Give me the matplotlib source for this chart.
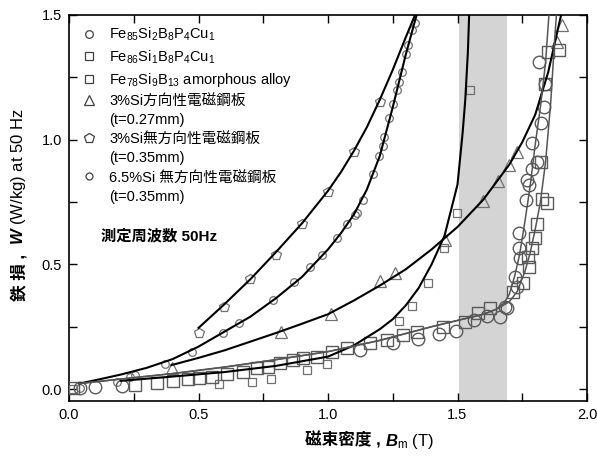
import matplotlib
matplotlib.use("Agg")
import matplotlib.pyplot as plt
from matplotlib.lines import Line2D
from matplotlib.ticker import MultipleLocator

plt.rcParams['font.family'] = ['Liberation Sans', 'Noto Sans CJK JP']
plt.rcParams['mathtext.fontset'] = 'custom'
plt.rcParams['mathtext.rm'] = 'Liberation Sans'
plt.rcParams['mathtext.it'] = 'Liberation Sans:italic'
plt.rcParams['mathtext.bf'] = 'Liberation Sans:bold:italic'
plt.rcParams['mathtext.default'] = 'regular'

# ---------------- data ----------------
# Fe85Si2B8P4Cu1 (large circles)
B_85 = [0.042, 0.10, 0.203, 1.124, 1.252, 1.349, 1.43, 1.494, 1.564, 1.613, 1.664, 1.69,
        1.683, 1.722, 1.728, 1.739, 1.739, 1.741, 1.764, 1.77, 1.777, 1.786, 1.786,
        1.806, 1.822, 1.834, 1.838, 1.816]
W_85 = [0.003, 0.007, 0.012, 0.156, 0.186, 0.20, 0.221, 0.233, 0.277, 0.293, 0.29, 0.323,
        0.33, 0.45, 0.41, 0.624, 0.564, 0.524, 0.76, 0.84, 0.82, 0.987, 0.884,
        0.911, 1.065, 1.131, 1.225, 1.312]
Bl_85 = [0.04, 0.2, 0.4, 0.6, 0.8, 1.0, 1.2, 1.4, 1.5, 1.6, 1.65, 1.68, 1.70, 1.72, 1.74,
         1.76, 1.78, 1.80, 1.82, 1.84, 1.853]
Wl_85 = [0.022, 0.04, 0.062, 0.088, 0.118, 0.15, 0.195, 0.25, 0.275, 0.30, 0.32, 0.345,
         0.38, 0.45, 0.54, 0.67, 0.81, 0.98, 1.13, 1.31, 1.5]

# Fe86Si1B8P4Cu1 (large squares)
B_86 = [0.014, 0.255, 0.339, 0.403, 0.461, 0.5, 0.551, 0.609, 0.673, 0.725, 0.77, 0.815,
        0.866, 0.905, 0.956, 1.014, 1.072, 1.162, 1.227, 1.291, 1.342, 1.445, 1.529,
        1.58, 1.625, 1.715, 1.754, 1.777, 1.773, 1.786, 1.799, 1.806, 1.825, 1.844,
        1.822, 1.838, 1.851, 1.893]
W_86 = [0.003, 0.016, 0.023, 0.032, 0.039, 0.043, 0.049, 0.06, 0.069, 0.083, 0.089, 0.103,
        0.116, 0.123, 0.13, 0.15, 0.163, 0.183, 0.196, 0.216, 0.23, 0.25, 0.27,
        0.303, 0.323, 0.39, 0.424, 0.49, 0.53, 0.564, 0.604, 0.661, 0.764, 0.747,
        0.911, 1.225, 1.352, 1.359]
Bl_86 = [0.04, 0.2, 0.4, 0.6, 0.8, 1.0, 1.2, 1.4, 1.5, 1.6, 1.65, 1.70, 1.73, 1.76, 1.78,
         1.80, 1.82, 1.84, 1.86, 1.875, 1.882]
Wl_86 = [0.022, 0.04, 0.062, 0.088, 0.118, 0.15, 0.195, 0.25, 0.275, 0.30, 0.32, 0.35,
         0.39, 0.47, 0.544, 0.64, 0.75, 0.91, 1.15, 1.40, 1.5]

# Fe78Si9B13 amorphous alloy (small squares)
B_am = [0.014, 0.58, 0.705, 0.78, 0.92, 0.995, 1.275, 1.323, 1.385, 1.449, 1.497, 1.548]
W_am = [0.0, 0.019, 0.029, 0.04, 0.076, 0.10, 0.274, 0.333, 0.426, 0.564, 0.704, 1.20]
Bl_am = [0.2, 0.4, 0.6, 0.8, 1.0, 1.1, 1.2, 1.25, 1.3, 1.35, 1.4, 1.45, 1.5, 1.52, 1.53,
         1.54, 1.545]
Wl_am = [0.033, 0.05, 0.068, 0.093, 0.13, 0.175, 0.24, 0.28, 0.335, 0.405, 0.50, 0.615,
         0.82, 1.03, 1.16, 1.35, 1.5]

# 3%Si grain-oriented (triangles)
B_go = [0.396, 0.817, 1.01, 1.20, 1.259, 1.452, 1.597, 1.658, 1.70, 1.728, 1.883, 1.902]
W_go = [0.083, 0.23, 0.30, 0.434, 0.464, 0.597, 0.753, 0.834, 0.90, 0.951, 1.39, 1.459]
Bl_go = [0.396, 0.5, 0.6, 0.7, 0.8, 0.9, 1.0, 1.1, 1.2, 1.3, 1.4, 1.5, 1.6, 1.7, 1.75,
         1.8, 1.85, 1.9]
Wl_go = [0.096, 0.125, 0.155, 0.19, 0.225, 0.262, 0.30, 0.355, 0.415, 0.48, 0.56, 0.65,
         0.76, 0.90, 0.99, 1.10, 1.27, 1.5]

# 3%Si non-oriented (pentagons)
B_no = [0.5, 0.6, 0.7, 0.8, 0.9, 1.0, 1.1, 1.2]
W_no = [0.226, 0.33, 0.44, 0.537, 0.661, 0.79, 0.949, 1.152]
Bl_no = [0.5, 0.6, 0.7, 0.8, 0.9, 1.0, 1.05, 1.1, 1.15, 1.2, 1.25, 1.3, 1.336]
Wl_no = [0.245, 0.34, 0.44, 0.55, 0.665, 0.795, 0.87, 0.955, 1.05, 1.16, 1.28, 1.41, 1.5]

# 6.5%Si non-oriented (small circles)
B_65 = [0.042, 0.184, 0.236, 0.255, 0.371, 0.474, 0.593, 0.658, 0.789, 0.87, 0.93, 0.978,
        1.033, 1.075, 1.104, 1.113, 1.134, 1.175, 1.198, 1.214, 1.217, 1.237, 1.252,
        1.265, 1.273, 1.284, 1.301, 1.31, 1.323, 1.336]
W_65 = [0.003, 0.029, 0.047, 0.056, 0.10, 0.15, 0.223, 0.263, 0.357, 0.43, 0.49, 0.537,
        0.606, 0.661, 0.697, 0.704, 0.76, 0.862, 0.934, 0.974, 1.011, 1.085, 1.142,
        1.198, 1.232, 1.272, 1.345, 1.379, 1.439, 1.466]
Bl_65 = [0.04, 0.1, 0.2, 0.3, 0.4, 0.5, 0.6, 0.7, 0.8, 0.9, 1.0, 1.05, 1.1, 1.15, 1.2,
         1.25, 1.3, 1.342]
Wl_65 = [0.022, 0.035, 0.058, 0.085, 0.12, 0.17, 0.23, 0.29, 0.365, 0.45, 0.56, 0.625,
         0.70, 0.80, 0.935, 1.13, 1.34, 1.5]

band = (1.505, 1.69)

legend_labels = [
    "Fe$_{85}$Si$_{2}$B$_{8}$P$_{4}$Cu$_{1}$",
    "Fe$_{86}$Si$_{1}$B$_{8}$P$_{4}$Cu$_{1}$",
    "Fe$_{78}$Si$_{9}$B$_{13}$ amorphous alloy",
    "3%Si方向性電磁鋼板",
    "(t=0.27mm)",
    "3%Si無方向性電磁鋼板",
    "(t=0.35mm)",
    "6.5%Si 無方向性電磁鋼板",
    "(t=0.35mm)",
]

# ---------------- plot ----------------
fig = plt.figure(figsize=(5.97, 4.61), dpi=100)
ax = fig.add_axes([69/597, 1-401/461, 518/597, 386/461])

ax.axvspan(band[0], band[1], color='#d4d4d4', zorder=0, lw=0)

gray_m = '#5a5a5a'
lgray_m = '#707070'

# markers
ax.plot(B_65, W_65, 'o', ms=5.5, mfc='none', mec=lgray_m, mew=0.9, zorder=3)
ax.plot(B_no, W_no, 'p', ms=7, mfc='none', mec=lgray_m, mew=0.9, zorder=3)
ax.plot(B_go, W_go, '^', ms=8, mfc='none', mec=lgray_m, mew=0.9, zorder=3)
ax.plot(B_am, W_am, 's', ms=5.5, mfc='none', mec=lgray_m, mew=0.9, zorder=3)
ax.plot(B_85, W_85, 'o', ms=9, mfc='none', mec=gray_m, mew=1.0, zorder=3)
ax.plot(B_86, W_86, 's', ms=8.5, mfc='none', mec=gray_m, mew=1.0, zorder=3)

# fitted lines
ax.plot(Bl_no, Wl_no, '-', color='black', lw=1.5, zorder=4)
ax.plot(Bl_65, Wl_65, '-', color='black', lw=1.5, zorder=4)
ax.plot(Bl_go, Wl_go, '-', color='black', lw=1.5, zorder=4)
ax.plot(Bl_am, Wl_am, '-', color='black', lw=1.5, zorder=4)
ax.plot(Bl_85, Wl_85, '-', color='#555555', lw=1.1, zorder=4)
ax.plot(Bl_86, Wl_86, '-', color='#555555', lw=1.1, zorder=4)

ax.set_xlim(0, 2.0)
ax.set_ylim(-0.048, 1.5)
ax.xaxis.set_minor_locator(MultipleLocator(0.25))
ax.yaxis.set_minor_locator(MultipleLocator(0.25))
ax.set_xticks([0.0, 0.5, 1.0, 1.5, 2.0])
ax.set_xticklabels(['0.0', '0.5', '1.0', '1.5', '2.0'])
ax.set_yticks([0.0, 0.5, 1.0, 1.5])
ax.set_yticklabels(['0.0', '0.5', '1.0', '1.5'])
ax.tick_params(which='both', direction='in', top=True, right=True, labelsize=10.5, width=1)
ax.tick_params(which='major', length=6, pad=5)
ax.tick_params(which='minor', length=6)
for s in ax.spines.values():
    s.set_linewidth(1.2)

# legend
mk = dict(mfc='none', mec='#404040', mew=0.9, ls='none')
handles = [
    Line2D([], [], marker='o', ms=5.5, **mk),
    Line2D([], [], marker='s', ms=5.5, **mk),
    Line2D([], [], marker='s', ms=5.5, **mk),
    Line2D([], [], marker='^', ms=7, **mk),
    Line2D([], [], ls='none'),
    Line2D([], [], marker='p', ms=7, **mk),
    Line2D([], [], ls='none'),
    Line2D([], [], marker='o', ms=5, **mk),
    Line2D([], [], ls='none'),
]
leg = ax.legend(handles, legend_labels, loc='upper left', bbox_to_anchor=(0.0, 1.0),
                frameon=False, fontsize=10.5, handlelength=1.2, handletextpad=0.8,
                labelspacing=0.35, borderaxespad=0.55, borderpad=0.2)

ax.text(0.062, 0.427, "測定周波数 50Hz", transform=ax.transAxes, fontsize=11,
        fontweight='bold', va='center', ha='left')

# x label: CJK part + math part
fig.text(381/597, 1-440/461, "磁束密度 ,", ha='right', va='center', fontsize=12,
         fontweight='bold')
fig.text(385/597, 1-441/461, r"$\mathbf{B}_\mathrm{m}$ (T)", ha='left', va='center',
         fontsize=12)
# y label: CJK part + math part (rotated)
fig.text(19/597, 1-301/461, "鉄 損 ,", ha='center', va='bottom', fontsize=12,
         fontweight='bold', rotation=90)
fig.text(19/597, 1-245/461, r"$\mathbf{W}$ (W/kg) at 50 Hz", ha='center', va='bottom',
         fontsize=12, rotation=90)

fig.savefig("out.png", dpi=100)
